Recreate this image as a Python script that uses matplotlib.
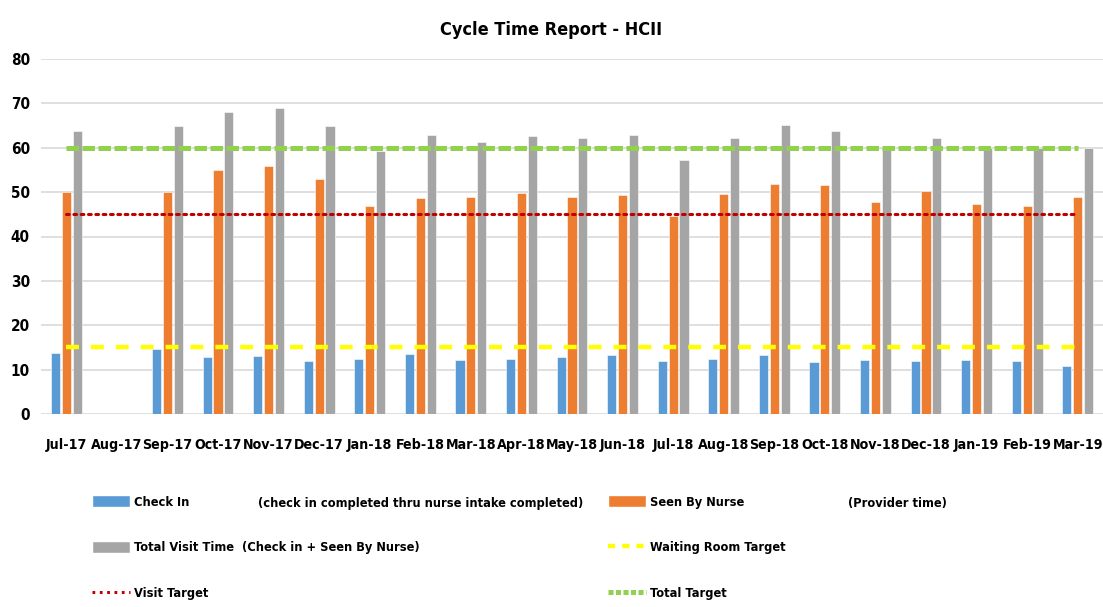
#!/usr/bin/env python3
import matplotlib
matplotlib.use("Agg")
import matplotlib.pyplot as plt
from matplotlib.patches import Patch
from matplotlib.lines import Line2D
from matplotlib import font_manager
import numpy as np

# pick a condensed face if one is around, else a plain narrow-ish sans
names = {f.name for f in font_manager.fontManager.ttflist}
cond = [f for f in font_manager.fontManager.ttflist if f.stretch in ("condensed", 75, "semi-condensed")]
if "Liberation Sans Narrow" in names:
    FAMILY, SCALE = "Liberation Sans Narrow", 1.0
elif cond:
    FAMILY, SCALE = cond[0].name, 1.0
    plt.rcParams['font.stretch'] = cond[0].stretch
else:
    FAMILY, SCALE = "Liberation Sans", 0.9
plt.rcParams['font.family'] = [FAMILY, 'DejaVu Sans']
plt.rcParams['font.weight'] = 'bold'

# Data
months = ["Jul-17", "Aug-17", "Sep-17", "Oct-17", "Nov-17", "Dec-17", "Jan-18",
          "Feb-18", "Mar-18", "Apr-18", "May-18", "Jun-18", "Jul-18", "Aug-18",
          "Sep-18", "Oct-18", "Nov-18", "Dec-18", "Jan-19", "Feb-19", "Mar-19"]
check_in = [13.7, 0, 14.7, 12.8, 13.0, 12.0, 12.3, 13.6, 12.2, 12.5, 12.8,
            13.3, 11.9, 12.5, 13.3, 11.7, 12.2, 11.9, 12.2, 11.9, 10.9]
seen_by_nurse = [50.0, 0, 50.0, 54.9, 56.0, 53.0, 46.8, 48.7, 49.0, 49.8, 49.0,
                 49.3, 44.7, 49.5, 51.9, 51.7, 47.8, 50.3, 47.3, 46.8, 49.0]
total_visit = [63.8, 0, 64.8, 68.1, 68.9, 65.0, 59.3, 62.9, 61.4, 62.6, 62.1,
               62.9, 57.2, 62.1, 65.1, 63.8, 60.1, 62.1, 60.0, 60.0, 60.0]
waiting_room_target = [15] * len(months)
visit_target = [45] * len(months)
total_target = [60] * len(months)

c_blue = "#5B9BD5"
c_orange = "#ED7D31"
c_gray = "#A5A5A5"
c_yellow = "#FFFF00"
c_red = "#C00000"
c_green = "#92D050"

fig = plt.figure(figsize=(11.03, 6.07), dpi=100)
ax = fig.add_axes([41 / 1103, 1 - 414 / 607, 1 - 41 / 1103, 355 / 607])

x = np.arange(len(months))
w = 0.18
off = 0.215
ax.bar(x - off, check_in, w, color=c_blue, edgecolor="white", linewidth=0.4, zorder=2)
ax.bar(x, seen_by_nurse, w, color=c_orange, edgecolor="white", linewidth=0.4, zorder=2)
ax.bar(x + off, total_visit, w, color=c_gray, edgecolor="white", linewidth=0.4, zorder=2)

ax.plot(x, waiting_room_target, color=c_yellow, lw=3.2, linestyle=(0, (2.9, 2.7)),
        dash_capstyle="butt", zorder=3)
ax.plot(x, visit_target, color=c_red, lw=2.2, linestyle=(0, (0.9, 1.5)),
        dash_capstyle="round", zorder=3)
ax.plot(x, total_target, color=c_green, lw=3.6, linestyle=(0, (2.5, 0.7)),
        dash_capstyle="butt", zorder=3)

ax.set_xlim(-0.5, len(months) - 0.5)
ax.set_ylim(0, 80)
ax.set_yticks(range(0, 81, 10))
ax.set_xticks(x)
ax.set_xticklabels(months, fontsize=10.2 * SCALE)
ax.tick_params(axis="y", labelsize=11 * SCALE)
ax.tick_params(axis="both", length=0)
ax.tick_params(axis="x", pad=17)
ax.tick_params(axis="y", pad=8)
ax.grid(axis="y", color="#D9D9D9", linewidth=1.2, zorder=0)
for s in ax.spines.values():
    s.set_visible(False)

fig.text(0.5, 0.95, "Cycle Time Report - HCII", ha="center", va="center", fontsize=13 * SCALE)

# Legend, built by hand in two columns
left_handles = [Patch(facecolor=c_blue, edgecolor="white"),
                Patch(facecolor=c_gray, edgecolor="white"),
                Line2D([], [], color=c_red, lw=2.2, linestyle=(0, (0.9, 1.5)))]
left_labels = ["Check In", "Total Visit Time  (Check in + Seen By Nurse)", "Visit Target"]
right_handles = [Patch(facecolor=c_orange, edgecolor="white"),
                 Line2D([], [], color=c_yellow, lw=3.2, linestyle=(0, (1.6, 1.6))),
                 Line2D([], [], color=c_green, lw=3.6, linestyle=(0, (1.0, 0.5)))]
right_labels = ["Seen By Nurse", "Waiting Room Target", "Total Target"]

fs = 9.2 * SCALE
fpx = fs * 100 / 72
leg_kw = dict(frameon=False, fontsize=fs, handlelength=38 / fpx,
              handleheight=1.05, handletextpad=0.35,
              labelspacing=(47 - fpx * 1.15) / fpx,
              loc="upper left", borderpad=0, borderaxespad=0)
top = 1 - (503 - fpx * 0.6) / 607
fig.legend(left_handles, left_labels, bbox_to_anchor=(92 / 1103, top), **leg_kw)
fig.legend(right_handles, right_labels, bbox_to_anchor=(608 / 1103, top), **leg_kw)
fig.text(258 / 1103, 1 - 503 / 607, "(check in completed thru nurse intake completed)",
         ha="left", va="center", fontsize=fs)
fig.text(848 / 1103, 1 - 503 / 607, "(Provider time)", ha="left", va="center", fontsize=fs)

fig.savefig("out.png", dpi=100)
